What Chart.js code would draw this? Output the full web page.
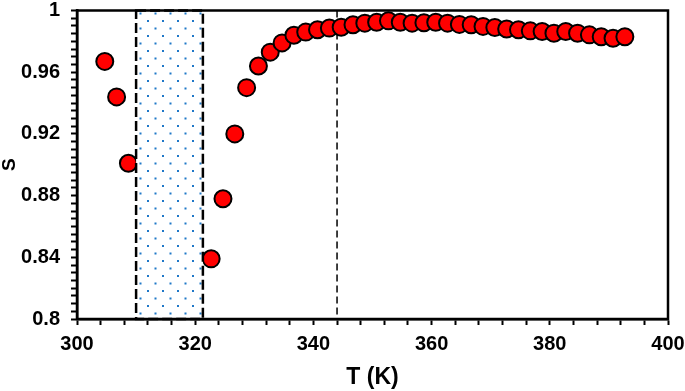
<!DOCTYPE html>
<html>
<head>
<meta charset="utf-8">
<script src="https://cdn.jsdelivr.net/npm/chart.js@4"></script>
<style>
  html, body { margin: 0; padding: 0; background: #fff; }
  #wrap { width: 685px; height: 391px; }
</style>
</head>
<body>
<div id="wrap"><canvas id="chart" width="685" height="391"></canvas></div>
<script>
const tempK = [304.7, 306.7, 308.7,
  322.7, 324.7, 326.7, 328.7, 330.7, 332.7, 334.7, 336.7, 338.7, 340.7,
  342.7, 344.7, 346.7, 348.7, 350.7, 352.7, 354.7, 356.7, 358.7, 360.7,
  362.7, 364.7, 366.7, 368.7, 370.7, 372.7, 374.7, 376.7, 378.7, 380.7,
  382.7, 384.7, 386.7, 388.7, 390.7, 392.7];
const sValues = [0.967, 0.944, 0.901,
  0.839, 0.878, 0.920, 0.950, 0.964, 0.973, 0.979, 0.984, 0.986, 0.9875,
  0.9886, 0.9892, 0.9908, 0.9918, 0.9924, 0.9933, 0.9924, 0.9918, 0.9921, 0.9924,
  0.9918, 0.991, 0.9908, 0.9897, 0.989, 0.988, 0.9875, 0.9868, 0.9864, 0.9853,
  0.9864, 0.9853, 0.9842, 0.983, 0.982, 0.983];
const shadedRange = [310, 321.3];
const refLineT = 344;

const font = "'Liberation Sans', Arial, sans-serif";

// dotted fill for the shaded band
function dotPattern(ctx) {
  const c = document.createElement('canvas');
  c.width = 15; c.height = 15;
  const p = c.getContext('2d');
  p.fillStyle = '#1f78c8';
  p.fillRect(12, 5, 2, 2);
  p.fillRect(4.5, 12.5, 2, 2);
  return ctx.createPattern(c, 'repeat');
}

const overlays = {
  id: 'overlays',
  beforeDatasetsDraw(chart) {
    const { ctx, chartArea: a, scales: { x } } = chart;
    const lx = x.getPixelForValue(refLineT);
    ctx.save();
    ctx.strokeStyle = '#000';
    ctx.lineWidth = 1.5;
    ctx.setLineDash([7, 4]);
    ctx.beginPath();
    ctx.moveTo(lx, a.top);
    ctx.lineTo(lx, a.bottom);
    ctx.stroke();
    ctx.restore();
  },
  afterDatasetsDraw(chart) {
    const { ctx, chartArea: a, scales: { x } } = chart;
    const x0 = x.getPixelForValue(shadedRange[0]);
    const x1 = x.getPixelForValue(shadedRange[1]);
    ctx.save();
    ctx.fillStyle = '#fff';
    ctx.fillRect(x0, a.top, x1 - x0, a.bottom - a.top);
    ctx.fillStyle = dotPattern(ctx);
    ctx.fillRect(x0, a.top, x1 - x0, a.bottom - a.top);
    ctx.strokeStyle = '#000';
    ctx.lineWidth = 2.5;
    ctx.setLineDash([10, 4]);
    ctx.strokeRect(x0, a.top, x1 - x0, a.bottom - a.top);
    ctx.restore();
  },
  afterDraw(chart) {
    const { ctx, chartArea: a } = chart;
    ctx.save();
    ctx.strokeStyle = '#000';
    ctx.lineWidth = 2.5;
    ctx.strokeRect(a.left, a.top, a.right - a.left, a.bottom - a.top);
    ctx.restore();
  }
};

new Chart(document.getElementById('chart'), {
  type: 'scatter',
  data: {
    datasets: [{
      data: tempK.map((t, i) => ({ x: t, y: sValues[i] })),
      backgroundColor: '#ff0000',
      borderColor: '#000',
      borderWidth: 2,
      pointRadius: 8.5,
      pointHoverRadius: 8.5
    }]
  },
  options: {
    responsive: false,
    animation: false,
    layout: { padding: 0 },
    plugins: { legend: { display: false }, tooltip: { enabled: false } },
    scales: {
      x: {
        type: 'linear',
        min: 300,
        max: 400,
        afterFit(s) { s.height = 72; s.paddingLeft = 0; s.paddingRight = 17; },
        border: { display: true, color: '#000', width: 2.5 },
        grid: { drawOnChartArea: false, drawTicks: true, tickLength: 6, tickWidth: 2, tickColor: '#000' },
        ticks: {
          stepSize: 4,
          autoSkip: false,
          maxRotation: 0,
          padding: 7,
          color: '#000',
          font: { family: font, size: 20, weight: 'bold' },
          callback: v => (v % 20 === 0 ? v : '')
        },
        title: {
          display: true,
          text: 'T (K)',
          color: '#000',
          padding: 0,
          font: { family: font, size: 23, weight: 'bold', lineHeight: 1.2 }
        }
      },
      y: {
        min: 0.8,
        max: 1,
        afterFit(s) { s.width = 77; s.paddingTop = 9; s.paddingBottom = 0; },
        border: { display: true, color: '#000', width: 2.5 },
        grid: { drawOnChartArea: false, drawTicks: true, tickLength: 6, tickWidth: 2, tickColor: '#000' },
        ticks: {
          stepSize: 0.005,
          autoSkip: false,
          padding: 11,
          color: '#000',
          font: { family: font, size: 20, weight: 'bold' },
          callback: v => (Math.round(v * 1000) % 40 === 0 ? String(+v.toFixed(2)) : '')
        },
        title: {
          display: true,
          text: 'S',
          color: '#000',
          padding: 0,
          font: { family: font, size: 19, weight: 'bold', lineHeight: 1 }
        }
      }
    }
  },
  plugins: [overlays]
});
</script>
</body>
</html>
